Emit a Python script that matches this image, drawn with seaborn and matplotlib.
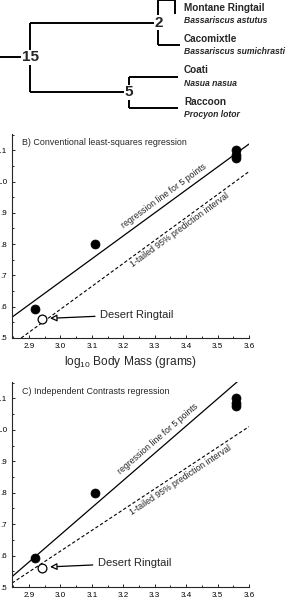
"""
Ringtail body mass vs. trait: phylogeny plus conventional and
independent-contrasts regressions (recreated figure).
"""

import matplotlib
matplotlib.use("Agg")
import matplotlib.pyplot as plt
import numpy as np
import seaborn as sns
from matplotlib.ticker import AutoMinorLocator, FixedLocator, FixedFormatter

sns.set_style("ticks")
plt.rcParams["font.family"] = ["Liberation Sans", "DejaVu Sans"]
plt.rcParams["mathtext.fontset"] = "custom"
plt.rcParams["mathtext.rm"] = "Liberation Sans"
plt.rcParams["mathtext.it"] = "Liberation Sans:italic"

# --- phylogeny ---
tip_names = ["Montane Ringtail", "Cacomixtle", "Coati", "Raccoon"]
tip_species = ["Bassariscus astutus", "Bassariscus sumichrasti",
               "Nasua nasua", "Procyon lotor"]
tip_rows = [0, 1, 2, 3]
node_labels = ["15", "2", "5"]
node_ages = [15, 2, 5]          # root, ringtail/cacomixtle, coati/raccoon
top_bracket_row = -0.45         # montane branch is drawn as a bracket at the top
montane_drop_age = 0.3

# --- species points (log10 body mass vs. trait) ---
mass = [2.92, 3.11, 3.56, 3.56, 3.56]
trait = [0.593, 0.80, 1.10, 1.085, 1.075]
desert_mass = [2.941]
desert_trait = [0.560]

# --- read-off lines ---
pi_offset_b = 0.088             # 1-tailed 95% PI below the OLS line
ic_line = [0.865, -1.929]       # slope, intercept (contrasts regression)
ic_pi_line = [0.66, -1.366]     # slope, intercept (its prediction bound)

x_ticks = [2.9, 3.0, 3.1, 3.2, 3.3, 3.4, 3.5, 3.6]
x_tick_labels = ["2.9", "3.0", "3.1", "3.2", "3.3", "3.4", "3.5", "3.6"]
y_ticks = [0.5, 0.6, 0.7, 0.8, 0.9, 1.0, 1.1]
y_tick_labels = [".5", ".6", ".7", ".8", ".9", "1.0", "1.1"]

W, H = 300, 598
fig = plt.figure(figsize=(W / 100, H / 100), dpi=100)


def px_axes(left, top, right, bottom):
    return fig.add_axes([left / W, 1 - bottom / H, (right - left) / W, (bottom - top) / H])


# ---------------- tree ----------------
tax = px_axes(0, 0, 300, 125)
tax.set_xlim(18.04, -12.35)
tax.set_ylim(3.55, -0.447)
tax.axis("off")

root_age, n2_age, n5_age = node_ages
n2_y = (top_bracket_row + tip_rows[1]) / 2
n5_y = (tip_rows[2] + tip_rows[3]) / 2
root_y = (n2_y + n5_y) / 2
tree_kw = dict(color="black", lw=1.4, solid_capstyle="butt")

tax.plot([18.04, root_age], [root_y, root_y], **tree_kw)
tax.plot([root_age, root_age], [n2_y, n5_y], **tree_kw)
tax.plot([root_age, n2_age], [n2_y, n2_y], **tree_kw)
tax.plot([root_age, n5_age], [n5_y, n5_y], **tree_kw)
tax.plot([n2_age, n2_age], [top_bracket_row, tip_rows[1]], **tree_kw)
tax.plot([n2_age, montane_drop_age, montane_drop_age],
         [top_bracket_row, top_bracket_row, tip_rows[0]], **tree_kw)
tax.plot([n2_age, -0.2], [tip_rows[1], tip_rows[1]], **tree_kw)
tax.plot([n5_age, n5_age], [tip_rows[2], tip_rows[3]], **tree_kw)
for r in tip_rows[2:]:
    tax.plot([n5_age, 0], [r, r], **tree_kw)

for lab, age, y in zip(node_labels, node_ages, [root_y, n2_y, n5_y]):
    tax.text(age, y, lab, ha="center", va="center", fontsize=11,
             fontweight="bold", bbox=dict(fc="white", ec="none", pad=0.3))

for name, sp, r in zip(tip_names, tip_species, tip_rows):
    tax.text(-0.6, r - 0.2, name, ha="left", va="center", fontsize=7.2,
             fontweight="bold")
    tax.text(-0.6, r + 0.21, sp, ha="left", va="center", fontsize=6.2,
             fontweight="bold", style="italic")


# ---------------- regression panels ----------------
def style_panel(ax):
    ax.set_xlim(2.846, 3.6)
    ax.set_ylim(0.5, 1.152)
    sns.despine(ax=ax)
    ax.spines["left"].set_linewidth(0.8)
    ax.spines["bottom"].set_linewidth(0.8)
    ax.xaxis.set_major_locator(FixedLocator(x_ticks))
    ax.xaxis.set_major_formatter(FixedFormatter(x_tick_labels))
    ax.yaxis.set_major_locator(FixedLocator(y_ticks))
    ax.yaxis.set_major_formatter(FixedFormatter(y_tick_labels))
    ax.xaxis.set_minor_locator(AutoMinorLocator(2))
    ax.yaxis.set_minor_locator(AutoMinorLocator(2))
    ax.tick_params(which="both", direction="in", width=0.6, labelsize=5.8,
                   pad=3.5, colors="black")
    ax.tick_params(which="major", length=2.5)
    ax.tick_params(which="minor", length=1.5)
    ax.set_xlabel("")
    ax.set_ylabel("")


def add_points(ax):
    sns.scatterplot(x=mass, y=trait, ax=ax, color="black", s=42,
                    edgecolor="black", linewidth=0.5, zorder=4)
    sns.scatterplot(x=desert_mass, y=desert_trait, ax=ax, facecolor="white",
                    edgecolor="black", s=40, linewidth=0.9, zorder=4)


def desert_label(ax, tip, text_xy):
    ax.annotate("Desert Ringtail", xy=tip, xytext=text_xy, fontsize=8,
                ha="left", va="center",
                arrowprops=dict(arrowstyle="-|>,head_length=0.5,head_width=0.25",
                                fc="white", ec="black", lw=0.9,
                                shrinkA=1.5, shrinkB=0))


dash = (0, (3, 2))
rot_kw = dict(fontsize=6.3, transform_rotates_text=True, rotation_mode="anchor",
              ha="center", va="center")

# B) conventional least squares
axb = px_axes(12, 134, 249, 338)
style_panel(axb)
sns.regplot(x=mass, y=trait, ax=axb, ci=None, truncate=False, scatter=False,
            line_kws=dict(color="black", lw=0.9))
slope_b, icept_b = np.polyfit(mass, trait, 1)
axb.axline((0, icept_b - pi_offset_b), slope=slope_b, color="black", lw=0.8,
           linestyle=dash)
add_points(axb)
style_panel(axb)
axb.text(0.042, 0.956, "B) Conventional least-squares regression",
         transform=axb.transAxes, fontsize=6.4, va="center", ha="left")
ang_b = np.degrees(np.arctan(slope_b))
axb.text(3.328, 0.954, "regression line for 5 points", rotation=ang_b, **rot_kw)
axb.text(3.379, 0.845, "1-tailed 95% prediction interval", rotation=ang_b, **rot_kw)
desert_label(axb, (2.967, 0.563), (3.127, 0.575))
axb.set_xlabel(r"log$_{10}$ Body Mass (grams)", fontsize=8.6, labelpad=3)

# C) independent contrasts
axc = px_axes(12, 382, 249, 587)
style_panel(axc)
axc.axline((0, ic_line[1]), slope=ic_line[0], color="black", lw=0.9)
axc.axline((0, ic_pi_line[1]), slope=ic_pi_line[0], color="black", lw=0.8,
           linestyle=dash)
add_points(axc)
style_panel(axc)
axc.text(0.042, 0.956, "C) Independent Contrasts regression",
         transform=axc.transAxes, fontsize=6.4, va="center", ha="left")
axc.text(3.309, 0.970, "regression line for 5 points",
         rotation=np.degrees(np.arctan(ic_line[0])), **rot_kw)
axc.text(3.383, 0.839, "1-tailed 95% prediction interval",
         rotation=np.degrees(np.arctan(ic_pi_line[0])), **rot_kw)
desert_label(axc, (2.967, 0.564), (3.12, 0.576))

fig.savefig("out.png", dpi=100)
